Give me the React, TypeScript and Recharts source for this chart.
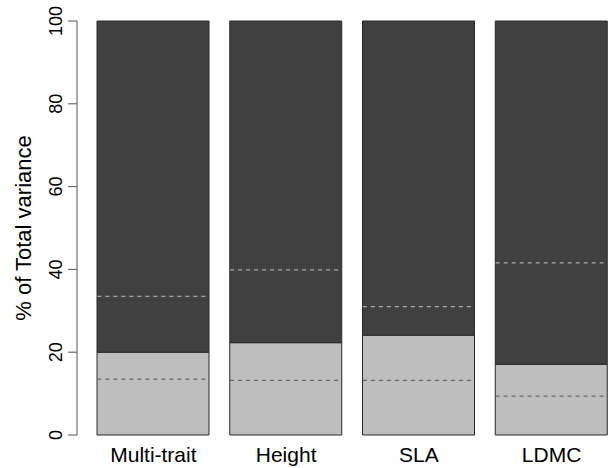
import React from 'react'
import { Bar, ComposedChart, Label, Scatter, XAxis, YAxis } from 'recharts'

const traits = ['Multi-trait', 'Height', 'SLA', 'LDMC']
const withinShare = [20.0, 22.3, 24.1, 17.1]
const amongShare = [80.0, 77.7, 75.9, 82.9]
const nullLow = [13.5, 13.2, 13.2, 9.4]
const nullHigh = [33.5, 39.9, 31.0, 41.6]
const yTicks = [0, 20, 40, 60, 80, 100]

const data = traits.map((name, i) => ({
  name,
  within: withinShare[i],
  among: amongShare[i],
  low: nullLow[i],
  high: nullHigh[i],
}))

const FONT = '"Liberation Sans", Arial, Helvetica, sans-serif'
const BAR_W = 112

const YTick = ({ y, payload }: any) => (
  <g transform={`translate(62,${y}) rotate(-90)`}>
    <text x={0} y={0} textAnchor="middle" fontSize={18} fontFamily={FONT} fill="#000">
      {payload.value}
    </text>
  </g>
)

const XTick = ({ x, y, payload }: any) => (
  <text x={x} y={y} dy={27} textAnchor="middle" fontSize={21} fontFamily={FONT} fill="#000">
    {payload.value}
  </text>
)

const dashShape = (color: string) => (props: any) => {
  const { cx, cy } = props
  return (
    <line
      x1={cx - BAR_W / 2}
      x2={cx + BAR_W / 2}
      y1={cy}
      y2={cy}
      stroke={color}
      strokeWidth={1.2}
      strokeDasharray="4 4"
    />
  )
}

function YTitle({ viewBox }: any) {
  const cy = viewBox.y + viewBox.height / 2
  return (
    <g transform={`translate(31,${cy}) rotate(-90)`}>
      <text x={0} y={0} textAnchor="middle" fontSize={22} fontFamily={FONT} fill="#000">
        % of Total variance
      </text>
    </g>
  )
}

export default function App() {
  return (
    <div style={{ position: 'absolute', left: 0, top: 0, width: 608, height: 468, overflow: 'hidden', background: '#fff' }}>
      <ComposedChart width={620} height={468} data={data} margin={{ top: 21, right: 2, bottom: 0, left: 0 }}>
        <XAxis
          dataKey="name"
          type="category"
          height={33}
          axisLine={false}
          tickLine={false}
          tickSize={0}
          tickMargin={0}
          padding={{ left: 10, right: 0 }}
          tick={<XTick />}
          interval={0}
        />
        <YAxis
          type="number"
          domain={[0, 100]}
          ticks={yTicks}
          width={77}
          tickSize={9}
          axisLine={{ stroke: '#555' }}
          tickLine={{ stroke: '#555' }}
          tick={<YTick />}
          interval={0}
        >
          <Label content={<YTitle />} />
        </YAxis>
        <Bar dataKey="within" stackId="v" barSize={BAR_W} fill="#bebebe" stroke="#2a2a2a" strokeWidth={1} isAnimationActive={false} />
        <Bar dataKey="among" stackId="v" barSize={BAR_W} fill="#404040" stroke="#2a2a2a" strokeWidth={1} isAnimationActive={false} />
        <Scatter dataKey="low" shape={dashShape('#666666')} isAnimationActive={false} />
        <Scatter dataKey="high" shape={dashShape('#a8a8a8')} isAnimationActive={false} />
      </ComposedChart>
    </div>
  )
}
